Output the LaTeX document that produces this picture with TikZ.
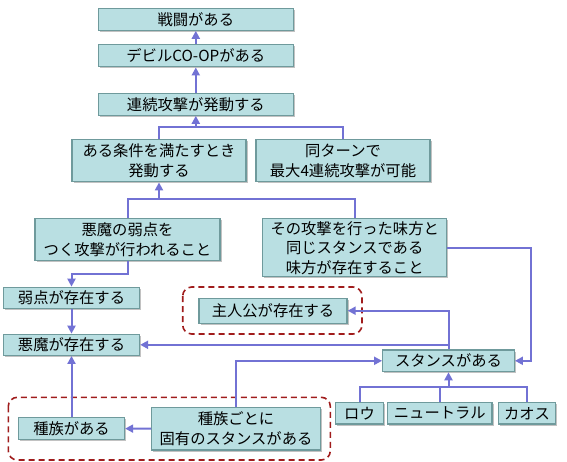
\documentclass[tikz,border=0pt]{standalone}
\usepackage{fontspec}
\newfontfamily\jpfont{Noto Sans CJK JP}
\usepackage{xcolor}
\usetikzlibrary{arrows.meta,shadows,positioning}

\definecolor{boxfill}{HTML}{B9DFE2}
\definecolor{boxline}{HTML}{6F9A9C}
\definecolor{linkblue}{HTML}{7272D4}
\definecolor{groupred}{HTML}{A01C1C}

\begin{document}
\begin{tikzpicture}[
		x=1pt,
		y=-1pt,
		cell/.style={
			draw=boxline,
			line width=1.3pt,
			fill=boxfill,
			inner sep=0pt,
			align=center,
			font=\jpfont\fontsize{15.3}{19.5}\selectfont,
			drop shadow={shadow xshift=1.6pt,shadow yshift=-1.6pt,fill=black!40,opacity=.6}
		},
		link/.style={
			draw=linkblue,
			line width=2pt
		},
		arr/.style={
			link,
			-{Triangle[length=8pt,width=8pt]}
		},
		group/.style={
			draw=groupred,
			line width=1.6pt,
			dash pattern=on 6pt off 4pt,
			rounded corners=9pt
		}
		]
		
		\useasboundingbox (0,0) rectangle (567,462);
		
		% top chain
		\node[cell,minimum width=195pt,minimum height=22pt] (battle) at (195.8, 19.2) {戦闘がある};
		\node[cell,minimum width=195pt,minimum height=22pt] (coop)   at (195.8, 55.8) {デビルCO-OPがある};
		\node[cell,minimum width=195pt,minimum height=22pt] (chain)  at (195.8,104.2) {連続攻撃が発動する};
		
		% conditions
		\node[cell,minimum width=174pt,minimum height=42pt] (cond) at (159.0,160.8) {ある条件を満たすとき\\発動する};
		\node[cell,minimum width=174pt,minimum height=42pt] (turn) at (343.0,160.8) {同ターンで\\最大4連続攻撃が可能};
		\node[cell,minimum width=185pt,minimum height=42pt] (weak) at (127.5,239.8) {悪魔の弱点を\\つく攻撃が行われること};
		\node[cell,minimum width=184pt,minimum height=58pt] (ally) at (354.7,247.8) {その攻撃を行った味方と\\同じスタンスである\\味方が存在すること};
		
		% left column
		\node[cell,minimum width=136pt,minimum height=21pt] (weakpt) at (71.5,297.8) {弱点が存在する};
		\node[cell,minimum width=136pt,minimum height=21pt] (demon)  at (71.5,344.8) {悪魔が存在する};
		\node[cell,minimum width=106pt,minimum height=21.6pt] (race) at (71.5,428.5) {種族がある};
		\node[cell,minimum width=168.6pt,minimum height=42.3pt] (racest) at (236.0,428.8) {種族ごとに\\固有のスタンスがある};
		
		% stances
		\node[cell,minimum width=148pt,minimum height=25pt] (hero) at (273.0,310.7) {主人公が存在する};
		\node[cell,minimum width=131.6pt,minimum height=21.7pt] (stance) at (448.5,360.8) {スタンスがある};
		\node[cell,minimum width=48.4pt,minimum height=21.3pt] (law)     at (359.5,413.3) {ロウ};
		\node[cell,minimum width=104.3pt,minimum height=21.3pt] (neutral) at (439.8,413.3) {ニュートラル};
		\node[cell,minimum width=56.6pt,minimum height=21.3pt] (chaos)   at (527.0,413.3) {カオス};
		
		% junctions
		\coordinate (j1) at (195.8,126.7);
		\coordinate (j2) at (159.0,199.3);
		\coordinate (j3) at (71.5,274.3);
		\coordinate (j4) at (448.5,344.8);
		\coordinate (j5) at (530.7,360.8);
		\coordinate (j6) at (448.5,386.7);
		
		% dashed groups
		\draw[group] (182.7,287.0) rectangle (362.0,334.0);
		\draw[group] (8.3,397.3) rectangle (330.3,460.0);
		
		% links
		\draw[arr] (coop) -- (battle);
		\draw[arr] (chain) -- (coop);
		\draw[arr] (cond.north) |- (j1) -- (chain);
		\draw[link] (turn.north) |- (j1);
		\draw[arr] (weak.north) |- (j2) -- (cond);
		\draw[link] (ally.north) |- (j2);
		\draw[arr] (weak.south) |- (j3) -- (weakpt);
		\draw[arr] (weakpt) -- (demon);
		\draw[arr] (race) -- (demon);
		\draw[arr] (racest) -- (race);
		\draw[arr] (racest.north) |- (stance.west);
		\draw[arr] (stance.north) |- (hero.east);
		\draw[arr] (j4) -- (demon.east);
		\draw[arr] (ally.east) -| (j5) -- (stance.east);
		\draw[arr] (law.north) |- (j6) -- (stance.south);
		\draw[link] (chaos.north) |- (j6);
		\draw[link] (neutral.north) -- (neutral.north |- j6);
\end{tikzpicture}
\end{document}
